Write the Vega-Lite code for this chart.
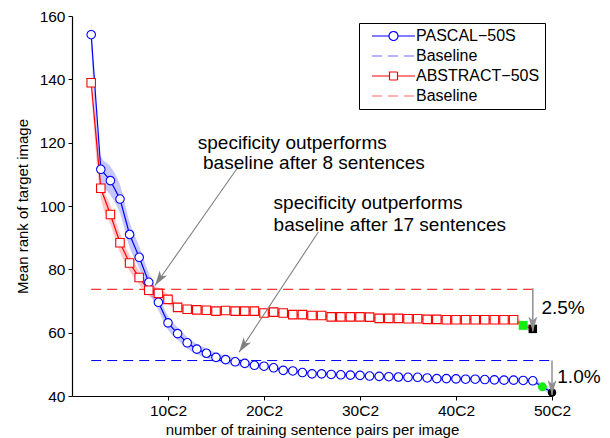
{
  "$schema": "https://vega.github.io/schema/vega-lite/v6.json",
  "width": 480,
  "height": 380,
  "autosize": {"type": "none"},
  "padding": {"left": 72, "top": 16, "right": 58, "bottom": 42},
  "background": "white",
  "datasets": {
    "curves": [
      {"series": "PASCAL−50S", "n": 2, "rank": 154.1, "lo": 150.1, "hi": 158.1, "kind": "step"},
      {"series": "PASCAL−50S", "n": 3, "rank": 111.6, "lo": 107.6, "hi": 115.6, "kind": "step"},
      {"series": "PASCAL−50S", "n": 4, "rank": 108.0, "lo": 103.5, "hi": 112.5, "kind": "step"},
      {"series": "PASCAL−50S", "n": 5, "rank": 102.2, "lo": 97.7, "hi": 106.7, "kind": "step"},
      {"series": "PASCAL−50S", "n": 6, "rank": 91.0, "lo": 87.0, "hi": 95.0, "kind": "step"},
      {"series": "PASCAL−50S", "n": 7, "rank": 83.8, "lo": 80.3, "hi": 87.3, "kind": "step"},
      {"series": "PASCAL−50S", "n": 8, "rank": 75.9, "lo": 72.9, "hi": 78.9, "kind": "step"},
      {"series": "PASCAL−50S", "n": 9, "rank": 69.6, "lo": 67.1, "hi": 72.1, "kind": "step"},
      {"series": "PASCAL−50S", "n": 10, "rank": 63.1, "lo": 60.9, "hi": 65.3, "kind": "step"},
      {"series": "PASCAL−50S", "n": 11, "rank": 59.7, "lo": 57.7, "hi": 61.7, "kind": "step"},
      {"series": "PASCAL−50S", "n": 12, "rank": 56.8, "lo": 55.0, "hi": 58.6, "kind": "step"},
      {"series": "PASCAL−50S", "n": 13, "rank": 54.8, "lo": 53.2, "hi": 56.4, "kind": "step"},
      {"series": "PASCAL−50S", "n": 14, "rank": 53.5, "lo": 52.0, "hi": 55.0, "kind": "step"},
      {"series": "PASCAL−50S", "n": 15, "rank": 52.2, "lo": 50.8, "hi": 53.6, "kind": "step"},
      {"series": "PASCAL−50S", "n": 16, "rank": 51.5, "lo": 50.2, "hi": 52.8, "kind": "step"},
      {"series": "PASCAL−50S", "n": 17, "rank": 50.8, "lo": 49.6, "hi": 52.0, "kind": "step"},
      {"series": "PASCAL−50S", "n": 18, "rank": 50.3, "lo": 49.2, "hi": 51.4, "kind": "step"},
      {"series": "PASCAL−50S", "n": 19, "rank": 49.7, "lo": 48.7, "hi": 50.7, "kind": "step"},
      {"series": "PASCAL−50S", "n": 20, "rank": 49.4, "lo": 48.6, "hi": 50.2, "kind": "step"},
      {"series": "PASCAL−50S", "n": 21, "rank": 48.9, "lo": 48.1, "hi": 49.7, "kind": "step"},
      {"series": "PASCAL−50S", "n": 22, "rank": 48.1, "lo": 47.3, "hi": 48.9, "kind": "step"},
      {"series": "PASCAL−50S", "n": 23, "rank": 47.9, "lo": 47.1, "hi": 48.7, "kind": "step"},
      {"series": "PASCAL−50S", "n": 24, "rank": 47.4, "lo": 46.6, "hi": 48.2, "kind": "step"},
      {"series": "PASCAL−50S", "n": 25, "rank": 47.0, "lo": 46.2, "hi": 47.8, "kind": "step"},
      {"series": "PASCAL−50S", "n": 26, "rank": 47.0, "lo": 46.2, "hi": 47.8, "kind": "step"},
      {"series": "PASCAL−50S", "n": 27, "rank": 46.8, "lo": 46.0, "hi": 47.6, "kind": "step"},
      {"series": "PASCAL−50S", "n": 28, "rank": 46.7, "lo": 45.9, "hi": 47.5, "kind": "step"},
      {"series": "PASCAL−50S", "n": 29, "rank": 46.6, "lo": 45.8, "hi": 47.4, "kind": "step"},
      {"series": "PASCAL−50S", "n": 30, "rank": 46.5, "lo": 45.7, "hi": 47.3, "kind": "step"},
      {"series": "PASCAL−50S", "n": 31, "rank": 46.3, "lo": 45.5, "hi": 47.1, "kind": "step"},
      {"series": "PASCAL−50S", "n": 32, "rank": 46.2, "lo": 45.4, "hi": 47.0, "kind": "step"},
      {"series": "PASCAL−50S", "n": 33, "rank": 46.1, "lo": 45.3, "hi": 46.9, "kind": "step"},
      {"series": "PASCAL−50S", "n": 34, "rank": 46.0, "lo": 45.2, "hi": 46.8, "kind": "step"},
      {"series": "PASCAL−50S", "n": 35, "rank": 45.9, "lo": 45.1, "hi": 46.7, "kind": "step"},
      {"series": "PASCAL−50S", "n": 36, "rank": 45.9, "lo": 45.1, "hi": 46.7, "kind": "step"},
      {"series": "PASCAL−50S", "n": 37, "rank": 45.7, "lo": 44.9, "hi": 46.5, "kind": "step"},
      {"series": "PASCAL−50S", "n": 38, "rank": 45.5, "lo": 44.7, "hi": 46.3, "kind": "step"},
      {"series": "PASCAL−50S", "n": 39, "rank": 45.5, "lo": 44.7, "hi": 46.3, "kind": "step"},
      {"series": "PASCAL−50S", "n": 40, "rank": 45.4, "lo": 44.6, "hi": 46.2, "kind": "step"},
      {"series": "PASCAL−50S", "n": 41, "rank": 45.3, "lo": 44.5, "hi": 46.1, "kind": "step"},
      {"series": "PASCAL−50S", "n": 42, "rank": 45.3, "lo": 44.5, "hi": 46.1, "kind": "step"},
      {"series": "PASCAL−50S", "n": 43, "rank": 45.2, "lo": 44.4, "hi": 46.0, "kind": "step"},
      {"series": "PASCAL−50S", "n": 44, "rank": 45.1, "lo": 44.3, "hi": 45.9, "kind": "step"},
      {"series": "PASCAL−50S", "n": 45, "rank": 45.0, "lo": 44.2, "hi": 45.8, "kind": "step"},
      {"series": "PASCAL−50S", "n": 46, "rank": 45.0, "lo": 44.2, "hi": 45.8, "kind": "step"},
      {"series": "PASCAL−50S", "n": 47, "rank": 44.9, "lo": 44.1, "hi": 45.7, "kind": "step"},
      {"series": "PASCAL−50S", "n": 48, "rank": 44.8, "lo": 44.0, "hi": 45.6, "kind": "step"},
      {"series": "PASCAL−50S", "n": 49, "rank": 42.9, "lo": 42.1, "hi": 43.7, "kind": "chosen"},
      {"series": "PASCAL−50S", "n": 50, "rank": 41.1, "lo": 40.3, "hi": 41.9, "kind": "final"},
      {"series": "ABSTRACT−50S", "n": 2, "rank": 138.9, "lo": 136.4, "hi": 141.4, "kind": "step"},
      {"series": "ABSTRACT−50S", "n": 3, "rank": 105.6, "lo": 102.6, "hi": 108.6, "kind": "step"},
      {"series": "ABSTRACT−50S", "n": 4, "rank": 97.3, "lo": 94.3, "hi": 100.3, "kind": "step"},
      {"series": "ABSTRACT−50S", "n": 5, "rank": 88.4, "lo": 85.4, "hi": 91.4, "kind": "step"},
      {"series": "ABSTRACT−50S", "n": 6, "rank": 82.0, "lo": 79.5, "hi": 84.5, "kind": "step"},
      {"series": "ABSTRACT−50S", "n": 7, "rank": 77.4, "lo": 75.2, "hi": 79.6, "kind": "step"},
      {"series": "ABSTRACT−50S", "n": 8, "rank": 73.4, "lo": 71.4, "hi": 75.4, "kind": "step"},
      {"series": "ABSTRACT−50S", "n": 9, "rank": 72.4, "lo": 70.6, "hi": 74.2, "kind": "step"},
      {"series": "ABSTRACT−50S", "n": 10, "rank": 70.5, "lo": 69.0, "hi": 72.0, "kind": "step"},
      {"series": "ABSTRACT−50S", "n": 11, "rank": 68.0, "lo": 66.7, "hi": 69.3, "kind": "step"},
      {"series": "ABSTRACT−50S", "n": 12, "rank": 67.4, "lo": 66.2, "hi": 68.6, "kind": "step"},
      {"series": "ABSTRACT−50S", "n": 13, "rank": 67.2, "lo": 66.1, "hi": 68.3, "kind": "step"},
      {"series": "ABSTRACT−50S", "n": 14, "rank": 67.1, "lo": 66.1, "hi": 68.1, "kind": "step"},
      {"series": "ABSTRACT−50S", "n": 15, "rank": 66.8, "lo": 65.8, "hi": 67.8, "kind": "step"},
      {"series": "ABSTRACT−50S", "n": 16, "rank": 67.0, "lo": 66.0, "hi": 68.0, "kind": "step"},
      {"series": "ABSTRACT−50S", "n": 17, "rank": 66.8, "lo": 65.8, "hi": 67.8, "kind": "step"},
      {"series": "ABSTRACT−50S", "n": 18, "rank": 66.8, "lo": 65.8, "hi": 67.8, "kind": "step"},
      {"series": "ABSTRACT−50S", "n": 19, "rank": 66.8, "lo": 65.8, "hi": 67.8, "kind": "step"},
      {"series": "ABSTRACT−50S", "n": 20, "rank": 66.2, "lo": 65.2, "hi": 67.2, "kind": "step"},
      {"series": "ABSTRACT−50S", "n": 21, "rank": 66.5, "lo": 65.5, "hi": 67.5, "kind": "step"},
      {"series": "ABSTRACT−50S", "n": 22, "rank": 66.2, "lo": 65.2, "hi": 67.2, "kind": "step"},
      {"series": "ABSTRACT−50S", "n": 23, "rank": 65.7, "lo": 64.7, "hi": 66.7, "kind": "step"},
      {"series": "ABSTRACT−50S", "n": 24, "rank": 65.7, "lo": 64.7, "hi": 66.7, "kind": "step"},
      {"series": "ABSTRACT−50S", "n": 25, "rank": 65.4, "lo": 64.4, "hi": 66.4, "kind": "step"},
      {"series": "ABSTRACT−50S", "n": 26, "rank": 65.4, "lo": 64.4, "hi": 66.4, "kind": "step"},
      {"series": "ABSTRACT−50S", "n": 27, "rank": 65.0, "lo": 64.0, "hi": 66.0, "kind": "step"},
      {"series": "ABSTRACT−50S", "n": 28, "rank": 65.0, "lo": 64.0, "hi": 66.0, "kind": "step"},
      {"series": "ABSTRACT−50S", "n": 29, "rank": 65.0, "lo": 64.0, "hi": 66.0, "kind": "step"},
      {"series": "ABSTRACT−50S", "n": 30, "rank": 65.0, "lo": 64.0, "hi": 66.0, "kind": "step"},
      {"series": "ABSTRACT−50S", "n": 31, "rank": 64.9, "lo": 63.9, "hi": 65.9, "kind": "step"},
      {"series": "ABSTRACT−50S", "n": 32, "rank": 64.5, "lo": 63.5, "hi": 65.5, "kind": "step"},
      {"series": "ABSTRACT−50S", "n": 33, "rank": 64.5, "lo": 63.5, "hi": 65.5, "kind": "step"},
      {"series": "ABSTRACT−50S", "n": 34, "rank": 64.5, "lo": 63.5, "hi": 65.5, "kind": "step"},
      {"series": "ABSTRACT−50S", "n": 35, "rank": 64.4, "lo": 63.4, "hi": 65.4, "kind": "step"},
      {"series": "ABSTRACT−50S", "n": 36, "rank": 64.4, "lo": 63.4, "hi": 65.4, "kind": "step"},
      {"series": "ABSTRACT−50S", "n": 37, "rank": 64.2, "lo": 63.2, "hi": 65.2, "kind": "step"},
      {"series": "ABSTRACT−50S", "n": 38, "rank": 64.2, "lo": 63.2, "hi": 65.2, "kind": "step"},
      {"series": "ABSTRACT−50S", "n": 39, "rank": 64.1, "lo": 63.1, "hi": 65.1, "kind": "step"},
      {"series": "ABSTRACT−50S", "n": 40, "rank": 64.1, "lo": 63.1, "hi": 65.1, "kind": "step"},
      {"series": "ABSTRACT−50S", "n": 41, "rank": 64.1, "lo": 63.1, "hi": 65.1, "kind": "step"},
      {"series": "ABSTRACT−50S", "n": 42, "rank": 64.1, "lo": 63.1, "hi": 65.1, "kind": "step"},
      {"series": "ABSTRACT−50S", "n": 43, "rank": 64.1, "lo": 63.1, "hi": 65.1, "kind": "step"},
      {"series": "ABSTRACT−50S", "n": 44, "rank": 64.1, "lo": 63.1, "hi": 65.1, "kind": "step"},
      {"series": "ABSTRACT−50S", "n": 45, "rank": 64.1, "lo": 63.1, "hi": 65.1, "kind": "step"},
      {"series": "ABSTRACT−50S", "n": 46, "rank": 64.1, "lo": 63.1, "hi": 65.1, "kind": "step"},
      {"series": "ABSTRACT−50S", "n": 47, "rank": 62.3, "lo": 61.3, "hi": 63.3, "kind": "chosen"},
      {"series": "ABSTRACT−50S", "n": 48, "rank": 61.2, "lo": 60.2, "hi": 62.2, "kind": "final"}
    ],
    "baselines": [
      {"series": "Baseline (PASCAL)", "from": 2, "to": 50, "rank": 51.2},
      {"series": "Baseline (ABSTRACT)", "from": 2, "to": 48, "rank": 73.7}
    ],
    "arrows": [
      {"x1": 17.3, "y1": 112.3, "x2": 8.65, "y2": 74.9},
      {"x1": 25.66, "y1": 91.8, "x2": 17.4, "y2": 53.8}
    ],
    "drops": [
      {"x1": 48, "y1": 74.0, "x2": 48, "y2": 60.4},
      {"x1": 50, "y1": 51.2, "x2": 50, "y2": 40.3}
    ],
    "notes": [
      {"x": 13.1, "y": 119.75, "text": "specificity outperforms"},
      {"x": 13.65, "y": 113.5, "text": "baseline after 8 sentences"},
      {"x": 21.0, "y": 100.8, "text": "specificity outperforms"},
      {"x": 21.0, "y": 94.1, "text": "baseline after 17 sentences"},
      {"x": 48.9, "y": 67.8, "text": "2.5%"},
      {"x": 50.55, "y": 46.0, "text": "1.0%"}
    ]
  },
  "layer": [
    {
      "data": {"name": "curves"},
      "mark": {"type": "area", "opacity": 0.22, "interpolate": "monotone"},
      "encoding": {
        "x": {"field": "n", "type": "quantitative", "scale": {"domain": [0, 50], "nice": false, "zero": false},
              "axis": {"title": "number of training sentence pairs per image", "values": [10, 20, 30, 40, 50], "labelExpr": "datum.value + 'C2'"}},
        "y": {"field": "lo", "type": "quantitative", "scale": {"domain": [40, 160], "nice": false, "zero": false},
              "axis": {"title": "Mean rank of target image", "values": [40, 60, 80, 100, 120, 140, 160]}},
        "y2": {"field": "hi"},
        "fill": {"field": "series", "type": "nominal",
                 "scale": {"domain": ["PASCAL−50S", "ABSTRACT−50S"], "range": ["#0000ff", "#ff0000"]}, "legend": null}
      }
    },
    {
      "data": {"name": "baselines"},
      "mark": {"type": "rule", "strokeDash": [10, 6], "strokeWidth": 1},
      "encoding": {
        "x": {"field": "from", "type": "quantitative"},
        "x2": {"field": "to"},
        "y": {"field": "rank", "type": "quantitative"},
        "color": {"field": "series", "type": "nominal"}
      }
    },
    {
      "data": {"name": "curves"},
      "mark": {"type": "line", "strokeWidth": 1.2},
      "encoding": {
        "x": {"field": "n", "type": "quantitative"},
        "y": {"field": "rank", "type": "quantitative"},
        "color": {"field": "series", "type": "nominal",
                  "scale": {"domain": ["PASCAL−50S", "Baseline (PASCAL)", "ABSTRACT−50S", "Baseline (ABSTRACT)"],
                            "range": ["#0000ff", "#0000ff", "#ff0000", "#ff0000"]},
                  "legend": {
                    "orient": "none", "legendX": 287, "legendY": 7, "title": null,
                    "strokeColor": "black", "fillColor": "white", "padding": 5,
                    "labelFontSize": 16, "labelColor": "black", "labelFont": "Liberation Sans",
                    "symbolType": "stroke", "symbolSize": 100, "symbolStrokeWidth": 1.2, "symbolFillColor": "white",
                    "symbolOffset": 21.5, "labelOffset": 14.5, "rowPadding": 4,
                    "labelExpr": "indexof(datum.label, 'Baseline') >= 0 ? 'Baseline' : datum.label",
                    "encoding": {"symbols": {
                      "shape": {"value": {"expr": "datum.value == 'PASCAL−50S' ? 'M-4.3,0H-0.9M0.9,0H4.3M-0.9,0A0.9,0.9 0 1,0 0.9,0A0.9,0.9 0 1,0 -0.9,0Z' : datum.value == 'ABSTRACT−50S' ? 'M-4.3,0H-0.8M0.8,0H4.3M-0.8,-0.8H0.8V0.8H-0.8Z' : 'M-4.3,0H4.3'"}},
                      "strokeDash": {"value": {"expr": "indexof(datum.value, 'Baseline') >= 0 ? [10, 6] : [1, 0]"}},
                      "fill": {"value": "white"},
                      "fillOpacity": {"value": 1},
                      "opacity": {"value": {"expr": "indexof(datum.value, 'Baseline') >= 0 ? 0.6 : 1"}}
                    }}
                  }}
      }
    },
    {
      "data": {"name": "curves"},
      "transform": [{"filter": "datum.kind == 'step'"}],
      "mark": {"type": "point", "filled": false, "fill": "white", "fillOpacity": 1, "opacity": 1, "strokeWidth": 1.1, "size": 72},
      "encoding": {
        "x": {"field": "n", "type": "quantitative"},
        "y": {"field": "rank", "type": "quantitative"},
        "color": {"field": "series", "type": "nominal"},
        "shape": {"field": "series", "type": "nominal", "scale": {"domain": ["PASCAL−50S", "ABSTRACT−50S"], "range": ["circle", "square"]}, "legend": null}
      }
    },
    {
      "data": {"name": "curves"},
      "transform": [{"filter": "datum.kind == 'chosen'"}],
      "mark": {"type": "point", "filled": true, "color": "#11ee11", "opacity": 1, "size": 80, "strokeWidth": 0},
      "encoding": {
        "x": {"field": "n", "type": "quantitative"},
        "y": {"field": "rank", "type": "quantitative"},
        "shape": {"field": "series", "type": "nominal", "legend": null}
      }
    },
    {
      "data": {"name": "curves"},
      "transform": [{"filter": "datum.kind == 'final'"}],
      "mark": {"type": "point", "filled": true, "color": "#000000", "opacity": 1, "size": 72, "strokeWidth": 0},
      "encoding": {
        "x": {"field": "n", "type": "quantitative"},
        "y": {"field": "rank", "type": "quantitative"},
        "shape": {"field": "series", "type": "nominal", "legend": null}
      }
    },
    {
      "data": {"name": "arrows"},
      "mark": {"type": "rule", "color": "#808080", "strokeWidth": 1.1},
      "encoding": {
        "x": {"field": "x1", "type": "quantitative"},
        "y": {"field": "y1", "type": "quantitative"},
        "x2": {"field": "x2"},
        "y2": {"field": "y2"}
      }
    },
    {
      "data": {"name": "arrows"},
      "mark": {"type": "point", "filled": true, "color": "#808080", "opacity": 1, "size": 100, "angle": 214, "strokeWidth": 0,
               "shape": "M0,0L0.9,3L0,2.2L-0.9,3Z"},
      "encoding": {
        "x": {"field": "x2", "type": "quantitative"},
        "y": {"field": "y2", "type": "quantitative"}
      }
    },
    {
      "data": {"name": "drops"},
      "mark": {"type": "rule", "color": "#909090", "strokeWidth": 1.5},
      "encoding": {
        "x": {"field": "x1", "type": "quantitative"},
        "y": {"field": "y1", "type": "quantitative"},
        "x2": {"field": "x2"},
        "y2": {"field": "y2"}
      }
    },
    {
      "data": {"name": "drops"},
      "mark": {"type": "point", "filled": true, "color": "#909090", "opacity": 1, "size": 100, "angle": 180, "strokeWidth": 0,
               "shape": "M0,0L0.9,3L0,2.2L-0.9,3Z"},
      "encoding": {
        "x": {"field": "x2", "type": "quantitative"},
        "y": {"field": "y2", "type": "quantitative"}
      }
    },
    {
      "data": {"name": "notes"},
      "mark": {"type": "text", "align": "left", "baseline": "middle", "fontSize": 19, "color": "black"},
      "encoding": {
        "x": {"field": "x", "type": "quantitative"},
        "y": {"field": "y", "type": "quantitative"},
        "text": {"field": "text"}
      }
    }
  ],
  "config": {
    "font": "Liberation Sans",
    "view": {"stroke": null},
    "axis": {"grid": false, "domainColor": "black", "tickColor": "black", "labelColor": "black", "titleColor": "black",
             "labelFontSize": 15.5, "titleFontSize": 15, "titleFontWeight": "normal", "tickSize": 4, "labelPadding": 3, "domainWidth": 1.2, "labelFlush": false},
    "axisX": {"titlePadding": 4},
    "axisY": {"titlePadding": 9}
  }
}
